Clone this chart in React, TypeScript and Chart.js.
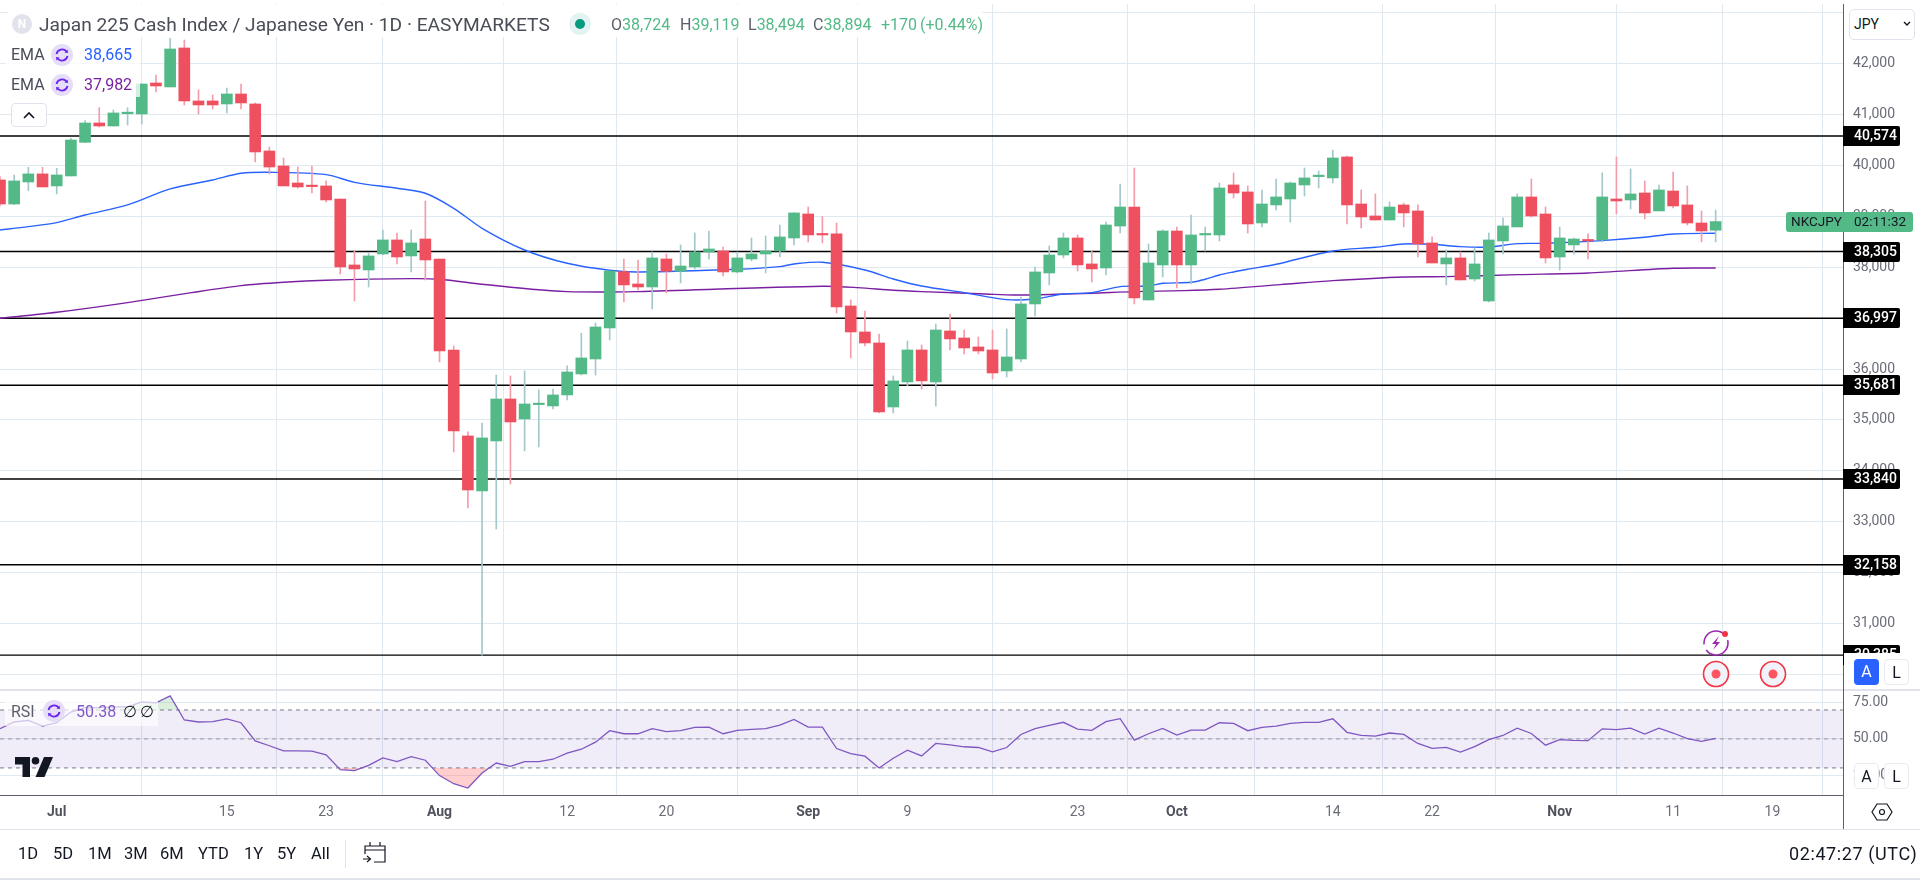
import React, { useEffect, useRef } from "react";
import { Chart, registerables } from "chart.js";

Chart.register(...registerables);

const FONT = "Roboto, 'Liberation Sans', sans-serif";

const firstBar = -4;
const opens = [39710,39239,39671,39829,39593,39789,40449,40829,40770,41012,41006,41614,41536,42301,41261,41261,41202,41398,41202,40279,39985,39651,39593,39593,39337,38042,37944,38258,38533,38219,38552,38160,36374,34686,33607,34588,35412,35020,35301,35275,35491,35903,36197,36806,37911,37669,37610,38160,37918,38003,38297,38317,37905,38160,38258,38317,38572,39043,38651,38651,37237,36727,36511,35255,35746,36374,35746,36747,36609,36433,36374,35962,36197,37277,37885,38238,38572,38062,37983,38807,39180,37355,38042,38709,38042,38631,38631,39612,39475,38866,39220,39337,39612,39776,39750,40162,39239,39004,38925,39220,39102,38474,38062,38180,37767,37335,38513,38788,39377,39043,38199,38435,38533,38533,39337,39318,39455,39102,39494,39220,38866,38724];
const highs = [39776,39808,39959,39959,39939,40528,40875,41130,41084,41130,41594,41771,42491,42458,41477,41379,41516,41594,41222,40358,40142,39965,39985,39691,39337,38317,38278,38729,38670,38729,39298,38160,36452,34765,34941,35883,35864,35962,35589,35608,36060,36701,36904,37924,38160,38140,38297,38258,38435,38670,38709,38395,38297,38572,38611,38827,39063,39180,38990,38866,37355,37139,36688,35864,36551,36472,36884,37080,36766,36629,36766,36786,37414,38003,38415,38670,38631,38317,38886,39632,39946,38454,38729,38788,39023,38788,39651,39848,39593,39514,39730,39671,39946,39887,40299,40181,39514,39436,39279,39259,39220,38592,38336,38297,38376,38670,38965,39436,39730,39180,38788,38572,38651,39848,40162,39926,39691,39612,39867,39593,39102,39119];
const lows = [39200,39226,39501,39573,39436,39789,40443,40750,40770,40790,40809,41437,41536,41182,41006,41104,41025,41104,40064,39828,39593,39553,39455,39279,37865,37335,37610,38238,38062,37905,37748,36138,34372,33273,30385,32861,33744,34392,34470,35216,35393,35883,35883,36570,37316,37551,37179,37493,37689,37964,38160,37826,37885,38121,37885,38199,38435,38494,38474,37100,36217,36452,35137,35137,35667,35608,35275,36374,36295,36295,35805,35844,36138,37041,37650,38180,37924,37709,37846,38670,37277,37355,37806,37591,37669,38317,38513,39357,38670,38788,39122,38886,39396,39553,39651,38847,38768,38925,38925,38788,38199,38081,37650,37748,37728,37316,38258,38788,38984,38081,37944,38258,38160,38494,39043,39141,38945,39102,39161,38827,38494,38494];
const closes = [39239,39691,39829,39573,39808,40495,40829,40770,41025,41019,41594,41555,42281,41261,41182,41182,41398,41222,40260,39965,39593,39573,39580,39318,38003,37964,38219,38533,38199,38474,38140,36354,34784,33626,34647,35412,34961,35314,35314,35491,35942,36217,36825,37924,37650,37610,38180,37918,38022,38297,38356,37905,38180,38258,38317,38592,39063,38631,38631,37218,36727,36511,35157,35766,36374,35766,36766,36590,36413,36354,35922,36236,37277,37905,38238,38572,38042,37964,38827,39180,37394,38081,38709,38042,38631,38651,39553,39455,38847,39239,39377,39651,39750,39795,40142,39220,38984,38925,39180,39063,38454,38081,38180,37748,38062,38533,38808,39377,39004,38180,38572,38552,38513,39377,39298,39436,39063,39514,39200,38866,38709,38894];

const emaFastIndex = [-4,-2,0,2,5,8,11,13,15,19,21,24,26,28,30,33,36,39,41,48,51,52,54,57,59,61,64,67,69,71,73,75,77,78,80,81,82,83,84,86,90,93,95,97,99,101,103,105,109,112,114,117];
const emaFast = [38729,38794,38873,39023,39220,39534,39710,39841,39861,39815,39664,39547,39449,39154,38762,38336,38075,37937,37905,37957,38009,38062,38094,37944,37767,37630,37499,37362,37375,37473,37499,37617,37630,37682,37702,37761,37846,37905,37957,38055,38317,38389,38454,38448,38402,38395,38461,38467,38520,38585,38651,38665];
const emaSlowIndex = [-4,0,5,9.5,13,16,19,25,27,30,33.5,36,39,41,54,56.5,59,61,65.5,67.5,70.5,73,76,79.5,82,86.3,90,95,98,103,108,114,117];
const emaSlow = [36995,37113,37303,37499,37637,37702,37741,37774,37761,37663,37565,37519,37512,37519,37623,37597,37545,37519,37473,37453,37466,37486,37519,37538,37565,37656,37735,37807,37813,37852,37885,37977,37982];

const rsi = [57.1,61.7,62.8,58.9,61.2,68.6,71.6,71.6,72.1,72.1,75.6,74.9,79.7,63.1,61.7,61.9,63.8,61.2,48.7,45.3,41.8,41.8,41.6,39,28.8,28.1,31.8,36.9,34.4,37.8,35.3,24.7,19.1,16.1,26.5,33.4,31.1,34.4,34.4,36,40.2,42.9,47.8,55.7,53.6,53.6,57.1,55,55.7,58,58.2,53.6,55.9,56.6,57.1,59.6,63.5,58.2,58.2,43.4,39.9,38.1,30,36.7,42.2,38.3,46.9,45.9,44.6,44.1,41.1,44.1,53.1,57.1,59.4,61.5,56.8,55.9,61.9,64,49.2,53.6,57.3,52.7,56.1,56.1,61.2,60.8,55.7,58,58.9,60.8,61.5,61.5,63.9,54.6,52.4,51.9,54.1,53.1,46.9,43.5,44.2,40.9,44.7,49.5,52.4,57.5,53.8,45.7,49.5,49,48.8,57,56.5,57.5,53.4,57.5,54.1,50.2,48.3,50.38];

const levels = [40574, 38305, 36997, 35681, 33840, 32158, 30385];
const rsiGuides = [70, 50, 30];

const timeTickIndex = [0,12,19,27,36,43,53,60,72,79,90,97,106,114,121];
const timeTickLabels = ["Jul","15","23","Aug","12","20","Sep","9","23","Oct","14","22","Nov","11","19"];
const monthLabels = ["Jul","Aug","Sep","Oct","Nov"];
const priceTicks = [30000,31000,32000,33000,34000,35000,36000,37000,38000,39000,40000,41000,42000,43000];
const rsiTicks = [25, 50, 75];

const viewStart = -3.9986;
const viewEnd = 125.98;
const priceMin = 29700;
const priceMax = 43164;
const rsiMin = 11.3;
const rsiMax = 83.8;

const ranges = ["1D","5D","1M","3M","6M","YTD","1Y","5Y","All"];
const rangeX = [18,53,88,124,160,198,244,277,311];

const UP = "#53b987";
const DOWN = "#ef5060";
const UP_WICK = "#a3c8cc";
const DOWN_WICK = "#f59cab";
const GRID = "#e1e9f0";
const AXIS = "#5d606b";
const TICK = "#6a6d78";

const fmt = (v: number) => v.toLocaleString("en-US");
const barX = (i: number) => firstBar + i;
const isMonthTick = (c: any) => !!c.tick && monthLabels.includes(timeTickLabels[timeTickIndex.indexOf(c.tick.value)]);

const roundRect = (ctx: any, x: number, y: number, w: number, h: number, r: number[]) => {
  ctx.beginPath();
  ctx.roundRect(x, y, w, h, r);
  ctx.fill();
};

const paneDecor = {
  id: "paneDecor",
  afterDraw(chart: any) {
    const { ctx, chartArea, scales } = chart;
    ctx.save();
    const right = chartArea.right;
    ctx.fillStyle = "#e0e3eb";
    ctx.fillRect(0, Math.round(scales.y.bottom) - 1, chart.width, 2);
    ctx.fillStyle = AXIS;
    ctx.fillRect(0, Math.round(chartArea.bottom), right, 1);
    ctx.fillRect(right, 4, 1, 826);
    ctx.textBaseline = "middle";
    ctx.textAlign = "left";
    ctx.font = `500 14px ${FONT}`;
    levels.forEach((lv) => {
      const y = Math.round(scales.y.getPixelForValue(lv));
      ctx.fillStyle = "#000";
      roundRect(ctx, right, y - 10, 57, 20, [0, 2, 2, 0]);
      ctx.fillStyle = "#fff";
      ctx.fillText(fmt(lv), right + 11, y + 0.5);
    });
    const last = closes[closes.length - 1];
    const ly = Math.round(scales.y.getPixelForValue(last));
    ctx.fillStyle = UP;
    roundRect(ctx, 1786, ly - 10, 127, 20, [3, 3, 3, 3]);
    ctx.fillStyle = "#131722";
    ctx.font = `13.5px ${FONT}`;
    ctx.fillText("NKCJPY", 1791, ly + 0.5);
    ctx.fillText("02:11:32", 1854, ly + 0.5);
    ctx.restore();
  },
};

const abs = (left: number, top: number, extra: React.CSSProperties = {}): React.CSSProperties => ({
  position: "absolute",
  left,
  top,
  whiteSpace: "nowrap",
  fontFamily: FONT,
  ...extra,
});

const noPad = (s: any) => {
  s.paddingTop = 0;
  s.paddingBottom = 0;
  s.paddingLeft = 0;
  s.paddingRight = 0;
};

function Refresh({ x, y, r = 11 }: { x: number; y: number; r?: number }) {
  return (
    <svg style={{ position: "absolute", left: x - r, top: y - r }} width={2 * r} height={2 * r} viewBox="0 0 22 22">
      <circle cx="11" cy="11" r="11" fill="#e6def8" />
      <path d="M5.5 10 A5.7 5.7 0 0 1 15.5 7.5" fill="none" stroke="#6a22f0" strokeWidth="1.8" />
      <path d="M16.5 12 A5.7 5.7 0 0 1 6.5 14.5" fill="none" stroke="#6a22f0" strokeWidth="1.8" />
      <path d="M13.5 8.6 L17 9 L16.6 5.4 Z" fill="#6a22f0" />
      <path d="M8.5 13.4 L5 13 L5.4 16.6 Z" fill="#6a22f0" />
    </svg>
  );
}

function Chip({ left, top, w, h, label, active }: { left: number; top: number; w: number; h: number; label: string; active?: boolean }) {
  return (
    <div
      style={abs(left, top, {
        width: w,
        height: h,
        lineHeight: `${h}px`,
        textAlign: "center",
        boxSizing: "border-box",
        borderRadius: 4,
        fontSize: 16,
        background: active ? "#2962ff" : "#fff",
        color: active ? "#fff" : "#131722",
        border: active ? "none" : "1px solid #e8eaf0",
      })}
    >
      {label}
    </div>
  );
}

function Target({ x, y }: { x: number; y: number }) {
  return (
    <svg style={{ position: "absolute", left: x - 14, top: y - 14 }} width="28" height="28">
      <circle cx="14" cy="14" r="12.5" fill="#f0f3fa" stroke="#f23645" strokeWidth="1.6" />
      <circle cx="14" cy="14" r="4.5" fill="#ff5560" />
    </svg>
  );
}

export default function App() {
  const ref = useRef<HTMLCanvasElement | null>(null);

  useEffect(() => {
    document.body.style.margin = "0";
    const xs = opens.map((_, i) => barX(i));
    const hline = (v: number) => [{ x: viewStart, y: v }, { x: viewEnd, y: v }];
    const rsiPts = rsi.map((v, i) => ({ x: xs[i], y: v }));
    const isUp = (i: number) => closes[i] >= opens[i];

    const datasets: any[] = [
      {
        type: "bar",
        label: "Body",
        order: 1,
        yAxisID: "y",
        grouped: false,
        barThickness: 11,
        minBarLength: 1.5,
        data: xs.map((x, i) => ({ x, y: [opens[i], closes[i]] })),
        backgroundColor: opens.map((_, i) => (isUp(i) ? UP : DOWN)),
      },
      {
        type: "bar",
        label: "Wick",
        order: 2,
        yAxisID: "y",
        grouped: false,
        barThickness: 1,
        data: xs.map((x, i) => ({ x, y: [lows[i], highs[i]] })),
        backgroundColor: opens.map((_, i) => (isUp(i) ? UP_WICK : DOWN_WICK)),
      },
      {
        type: "line",
        label: "EMA 50",
        order: 3,
        yAxisID: "y",
        data: emaFast.map((v, i) => ({ x: emaFastIndex[i], y: v })),
        borderColor: "#2962ff",
        borderWidth: 1.4,
        pointRadius: 0,
        tension: 0.3,
      },
      {
        type: "line",
        label: "EMA 200",
        order: 3,
        yAxisID: "y",
        data: emaSlow.map((v, i) => ({ x: emaSlowIndex[i], y: v })),
        borderColor: "#7b1fa2",
        borderWidth: 1.4,
        pointRadius: 0,
        tension: 0.3,
      },
      ...levels.map((lv) => ({
        type: "line",
        label: `Level ${lv}`,
        order: 4,
        yAxisID: "y",
        data: hline(lv),
        borderColor: "#000",
        borderWidth: 1.4,
        pointRadius: 0,
      })),
      {
        type: "line",
        label: "RSI",
        order: 5,
        yAxisID: "yRsi",
        data: rsiPts,
        borderColor: "#7e57c2",
        borderWidth: 1.3,
        pointRadius: 0,
        fill: { target: { value: 70 }, above: "rgba(76,175,80,0.2)", below: "rgba(0,0,0,0)" },
      },
      {
        type: "line",
        label: "RSI oversold",
        order: 6,
        yAxisID: "yRsi",
        data: rsiPts,
        borderWidth: 0,
        pointRadius: 0,
        fill: { target: { value: 30 }, above: "rgba(0,0,0,0)", below: "rgba(255,82,82,0.28)" },
      },
      ...rsiGuides.map((g) => ({
        type: "line",
        label: `RSI ${g}`,
        order: 7,
        yAxisID: "yRsi",
        data: hline(g),
        borderColor: g === 50 ? "rgba(120,123,134,0.7)" : "#787b86",
        borderWidth: 1,
        borderDash: [4, 4],
        pointRadius: 0,
      })),
      {
        type: "line",
        label: "RSI band",
        order: 8,
        yAxisID: "yRsi",
        data: hline(rsiGuides[0]),
        borderWidth: 0,
        pointRadius: 0,
        fill: { target: { value: rsiGuides[2] }, above: "rgba(126,87,194,0.115)", below: "rgba(126,87,194,0.115)" },
      },
    ];

    const chart = new Chart(ref.current as HTMLCanvasElement, {
      data: { datasets },
      plugins: [paneDecor],
      options: {
        animation: false,
        responsive: false,
        layout: { padding: { top: 4, bottom: 50, left: 0, right: 0 } },
        plugins: { legend: { display: false }, tooltip: { enabled: false } },
        scales: {
          x: {
            type: "linear",
            min: viewStart,
            max: viewEnd,
            offset: false,
            afterFit: (s: any) => { s.height = 35; noPad(s); },
            afterBuildTicks: (s: any) => { s.ticks = timeTickIndex.map((value) => ({ value })); },
            border: { display: false },
            grid: { color: GRID, drawTicks: false, lineWidth: 1 },
            ticks: {
              autoSkip: false,
              maxRotation: 0,
              padding: 9,
              color: (c: any) => (isMonthTick(c) ? "#50535e" : TICK),
              font: (c: any) => ({
                family: FONT,
                size: 14,
                weight: isMonthTick(c) ? "bold" : "normal",
              }),
              callback: (v: any) => timeTickLabels[timeTickIndex.indexOf(v)],
            },
          },
          y: {
            type: "linear",
            position: "right",
            stack: "panes",
            stackWeight: 686,
            min: priceMin,
            max: priceMax,
            afterFit: (s: any) => { s.width = 77; noPad(s); },
            afterBuildTicks: (s: any) => { s.ticks = priceTicks.map((value) => ({ value })); },
            border: { display: false },
            grid: { color: GRID, drawTicks: false, lineWidth: 1 },
            ticks: {
              autoSkip: false,
              padding: 10,
              crossAlign: "near",
              color: TICK,
              font: { family: FONT, size: 14 },
              callback: (v: any) => fmt(v),
            },
          },
          yRsi: {
            type: "linear",
            position: "right",
            stack: "panes",
            stackWeight: 105,
            min: rsiMin,
            max: rsiMax,
            afterFit: (s: any) => { s.width = 77; noPad(s); },
            afterBuildTicks: (s: any) => { s.ticks = rsiTicks.map((value) => ({ value })); },
            border: { display: false },
            grid: { color: GRID, drawTicks: false, lineWidth: 1 },
            ticks: {
              autoSkip: false,
              padding: 10,
              crossAlign: "near",
              color: TICK,
              font: { family: FONT, size: 14 },
              callback: (v: any) => Number(v).toFixed(2),
            },
          },
        },
      } as any,
    } as any);
    return () => chart.destroy();
  }, []);

  const green = { fontSize: 16, lineHeight: "20px", color: "#53b987" };
  const grey = { color: "#5b5e69" };

  return (
    <div style={{ position: "fixed", left: 0, top: 0, width: 1920, height: 880, background: "#fff", overflow: "hidden" }}>
      <canvas ref={ref} width={1920} height={880} style={{ display: "block" }} />

      {/* Header */}
      <div style={abs(8, 5, { width: 975, height: 32, background: "rgba(255,255,255,0.88)" })} />
      <div style={abs(12, 14, { width: 20, height: 20, borderRadius: 10, background: "#e0e3eb", color: "#fff", textAlign: "center", lineHeight: "20px", fontSize: 12, fontWeight: 700 })}>N</div>
      <div style={abs(39, 14, { fontSize: 19.15, lineHeight: "22px", color: "#4a4d57" })}>Japan 225 Cash Index / Japanese Yen · 1D · EASYMARKETS</div>
      <svg style={{ position: "absolute", left: 569, top: 13 }} width="22" height="22">
        <circle cx="11" cy="11" r="11" fill="#e3f3f1" />
        <circle cx="11" cy="11" r="5" fill="#089981" />
      </svg>
      <div style={abs(611, 15, green)}><span style={grey}>O</span>38,724</div>
      <div style={abs(680, 15, green)}><span style={grey}>H</span>39,119</div>
      <div style={abs(748, 15, green)}><span style={grey}>L</span>38,494</div>
      <div style={abs(813, 15, green)}><span style={grey}>C</span>38,894</div>
      <div style={abs(881, 15, green)}>+170</div>
      <div style={abs(920, 15, green)}>(+0.44%)</div>

      {/* EMA legends */}
      <div style={abs(5, 43, { width: 135, height: 24, background: "rgba(255,255,255,0.75)" })} />
      <div style={abs(5, 73, { width: 135, height: 24, background: "rgba(255,255,255,0.75)" })} />
      <div style={abs(11, 45, { fontSize: 16, lineHeight: "20px", color: "#4a4d57" })}>EMA</div>
      <Refresh x={62} y={55} />
      <div style={abs(84, 45, { fontSize: 16, lineHeight: "20px", color: "#2962ff" })}>38,665</div>
      <div style={abs(11, 75, { fontSize: 16, lineHeight: "20px", color: "#4a4d57" })}>EMA</div>
      <Refresh x={62} y={85} />
      <div style={abs(84, 75, { fontSize: 16, lineHeight: "20px", color: "#7b1fa2" })}>37,982</div>
      <div style={abs(11, 103, { width: 36, height: 24, boxSizing: "border-box", border: "1px solid #e0e3eb", borderRadius: 4, background: "#fff" })}>
        <svg width="34" height="22"><path d="M12 14 L17 9 L22 14" fill="none" stroke="#131722" strokeWidth="1.6" /></svg>
      </div>

      {/* Price-axis widgets */}
      <div style={abs(1844, 0, { width: 76, height: 10, background: "#fff" })} />
      <div style={abs(1849, 9, { width: 66, height: 31, boxSizing: "border-box", border: "1px solid #e0e3eb", borderRadius: 5, background: "#fff", paddingLeft: 4, lineHeight: "29px", fontSize: 14, color: "#131722" })}>JPY</div>
      <svg style={{ position: "absolute", left: 1902, top: 20 }} width="10" height="8"><path d="M2 2 L5 5 L8 2" fill="none" stroke="#131722" strokeWidth="1.4" /></svg>
      <div style={abs(1844, 653, { width: 76, height: 36, background: "#fff" })} />
      <Chip left={1854} top={659} w={25} h={26} label="A" active />
      <Chip left={1884} top={659} w={25} h={26} label="L" />
      <Chip left={1854} top={763} w={25} h={26} label="A" />
      <Chip left={1884} top={763} w={25} h={26} label="L" />

      {/* Chart markers */}
      <svg style={{ position: "absolute", left: 1702, top: 628 }} width="32" height="30">
        <circle cx="14" cy="15" r="12" fill="#fff" stroke="#9c27b0" strokeWidth="1.6" strokeDasharray="30 6" />
        <path d="M17 8 L10 16 L14 16 L11 22 L18 14 L14 14 Z" fill="#9c27b0" />
        <circle cx="23" cy="6" r="3" fill="#f23645" />
      </svg>
      <Target x={1716} y={674} />
      <Target x={1773} y={674} />

      {/* RSI legend and logo */}
      <div style={abs(5, 700, { width: 153, height: 26, background: "rgba(255,255,255,0.65)" })} />
      <div style={abs(11, 702, { fontSize: 16, lineHeight: "20px", color: "#5b5e69" })}>RSI</div>
      <Refresh x={54} y={711} />
      <div style={abs(76, 702, { fontSize: 16, lineHeight: "20px", color: "#7e57c2" })}>50.38</div>
      <div style={abs(123, 702, { fontSize: 16, lineHeight: "20px", color: "#131722" })}>∅</div>
      <div style={abs(140, 702, { fontSize: 16, lineHeight: "20px", color: "#131722" })}>∅</div>
      <svg style={{ position: "absolute", left: 15, top: 757 }} width="38" height="20" viewBox="0 0 38 20">
        <path d="M0 0 H15 V20 H7.5 V7.5 H0 Z" fill="#131722" />
        <circle cx="20.5" cy="3.8" r="3.8" fill="#131722" />
        <path d="M29 0 H38 L29.5 20 H20.5 Z" fill="#131722" />
      </svg>

      {/* Gear */}
      <svg style={{ position: "absolute", left: 1871, top: 801 }} width="22" height="22">
        <path d="M6 3 H16 L21 11 L16 19 H6 L1 11 Z" fill="none" stroke="#131722" strokeWidth="1.2" />
        <circle cx="11" cy="11" r="2.5" fill="none" stroke="#131722" strokeWidth="1.2" />
      </svg>

      {/* Bottom toolbar */}
      <div style={abs(0, 829, { width: 1920, height: 1, background: "#e0e3eb" })} />
      {ranges.map((r, i) => (
        <div key={r} style={abs(rangeX[i], 844, { fontSize: 16.5, lineHeight: "20px", color: "#131722" })}>{r}</div>
      ))}
      <div style={abs(345, 840, { width: 1, height: 28, background: "#e0e3eb" })} />
      <svg style={{ position: "absolute", left: 362, top: 841 }} width="25" height="24" fill="none" stroke="#131722" strokeWidth="1.2">
        <path d="M3 13 V5 H23 V21 H12" />
        <path d="M3 9 H23 M8 1 V5 M18 1 V5" />
        <path d="M1 18 H8 M5 15 L8.5 18 L5 21" />
      </svg>
      <div style={abs(1789, 844, { fontSize: 18, letterSpacing: 0.6, lineHeight: "20px", color: "#131722" })}>02:47:27 (UTC)</div>
      <div style={abs(0, 878, { width: 1920, height: 2, background: "#e0e3eb" })} />
    </div>
  );
}
